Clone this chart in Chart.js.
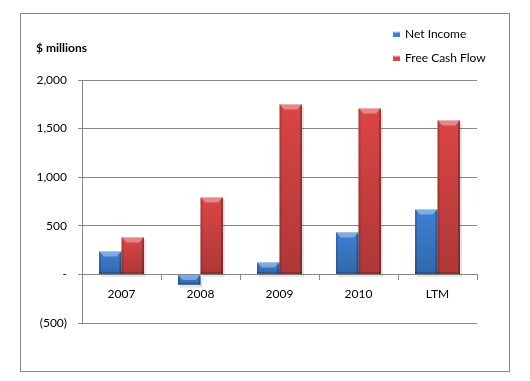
<!DOCTYPE html>
<html>
<head>
<meta charset="utf-8">
<script src="https://cdn.jsdelivr.net/npm/chart.js@4"></script>
<style>
  html, body { margin: 0; padding: 0; background: #fff; }
  #wrap { width: 530px; height: 381px; }
</style>
</head>
<body>
<div id="wrap"><canvas id="myChart" width="530" height="381"></canvas></div>
<script>
var categories = ['2007', '2008', '2009', '2010', 'LTM'];
var netIncome = [236, -106, 123, 432, 668];
var freeCashFlow = [380, 792, 1749, 1708, 1584];
var seriesNames = ['Net Income', 'Free Cash Flow'];
var seriesColors = ['#3d81d5', '#da4545'];

var FONT = 'Lato, "Liberation Sans", sans-serif';
var GRID = '#888888';

// outer frame, unit label, legend and bar shading
var decorPlugin = {
  id: 'decor',
  beforeDraw: function(chart) {
    var c = chart.ctx;
    c.save();
    c.fillStyle = '#fff';
    c.fillRect(0, 0, chart.width, chart.height);
    c.strokeStyle = GRID;
    c.lineWidth = 1;
    c.strokeRect(20.5, 13.5, 489, 358);
    c.fillStyle = '#000';
    c.font = 'bold 12px ' + FONT;
    c.textBaseline = 'middle';
    c.fillText('$ millions', 36, 48);
    c.font = '12px ' + FONT;
    for (var i = 0; i < seriesNames.length; i++) {
      var y = 34 + i * 24;
      var g = c.createLinearGradient(393, y - 3, 393, y + 4);
      g.addColorStop(0, '#ffffff');
      g.addColorStop(0.35, seriesColors[i]);
      g.addColorStop(1, seriesColors[i]);
      c.fillStyle = g;
      c.fillRect(393, y - 4, 7, 7);
      c.fillStyle = '#000';
      c.fillText(seriesNames[i], 405, y);
    }
    c.restore();
  },
  beforeDatasetsDraw: function(chart) {
    var c = chart.ctx;
    c.save();
    c.fillStyle = 'rgba(0,0,0,0.10)';
    chart.data.datasets.forEach(function(ds, di) {
      chart.getDatasetMeta(di).data.forEach(function(bar) {
        var left = bar.x - bar.width / 2;
        var top = Math.min(bar.y, bar.base);
        var h = Math.abs(bar.base - bar.y);
        c.fillRect(left + 2, top + 2, bar.width, h + 1);
      });
    });
    c.restore();
  },
  afterDatasetsDraw: function(chart) {
    var c = chart.ctx;
    c.save();
    chart.data.datasets.forEach(function(ds, di) {
      chart.getDatasetMeta(di).data.forEach(function(bar) {
        var left = bar.x - bar.width / 2;
        var top = Math.min(bar.y, bar.base);
        var h = Math.abs(bar.base - bar.y);
        var w = bar.width;
        var vg = c.createLinearGradient(0, top, 0, top + h);
        vg.addColorStop(0, 'rgba(0,0,0,0)');
        vg.addColorStop(1, 'rgba(0,0,0,0.2)');
        c.fillStyle = vg;
        c.fillRect(left, top, w, h);
        // darker side edges
        c.fillStyle = 'rgba(0,0,0,0.15)';
        c.fillRect(left, top, 2, h);
        c.fillStyle = 'rgba(0,0,0,0.25)';
        c.fillRect(left + w - 2, top, 2, h);
        c.fillStyle = 'rgba(0,0,0,0.18)';
        c.fillRect(left, top + h - 2, w, 2);
        // top bevel
        var bh = Math.min(5, h);
        c.beginPath();
        c.moveTo(left, top);
        c.lineTo(left + w, top);
        c.lineTo(left + w - bh, top + bh);
        c.lineTo(left + bh, top + bh);
        c.closePath();
        c.fillStyle = 'rgba(255,255,255,0.35)';
        c.fill();
      });
    });
    c.restore();
  }
};

var ctx = document.getElementById('myChart').getContext('2d');
var myChart = new Chart(ctx, {
  type: 'bar',
  data: {
    labels: categories,
    datasets: [{
      label: seriesNames[0],
      data: netIncome,
      backgroundColor: seriesColors[0],
      borderWidth: 0,
      categoryPercentage: 0.57,
      barPercentage: 1.0
    }, {
      label: seriesNames[1],
      data: freeCashFlow,
      backgroundColor: seriesColors[1],
      borderWidth: 0,
      categoryPercentage: 0.57,
      barPercentage: 1.0
    }]
  },
  options: {
    responsive: false,
    animation: false,
    layout: { padding: { top: 80, right: 53, bottom: 58, left: 0 } },
    plugins: {
      legend: { display: false },
      tooltip: { enabled: false }
    },
    scales: {
      x: {
        position: { y: 0 },
        grid: { drawOnChartArea: false, drawTicks: true, tickLength: 5, color: GRID },
        border: { color: GRID },
        ticks: { color: '#000', padding: 8, font: { family: FONT, size: 12 } }
      },
      y: {
        min: -500,
        max: 2000,
        afterFit: function(scale) { scale.width = 82; },
        grid: { color: GRID, tickLength: 4 },
        border: { color: GRID },
        ticks: {
          stepSize: 500,
          padding: 11,
          color: '#000',
          font: { family: FONT, size: 12 },
          callback: function(v) {
            if (v === 0) return '-';
            if (v < 0) return '(' + Math.abs(v).toLocaleString('en-US') + ')';
            return v.toLocaleString('en-US');
          }
        }
      }
    }
  },
  plugins: [decorPlugin]
});
</script>
</body>
</html>
